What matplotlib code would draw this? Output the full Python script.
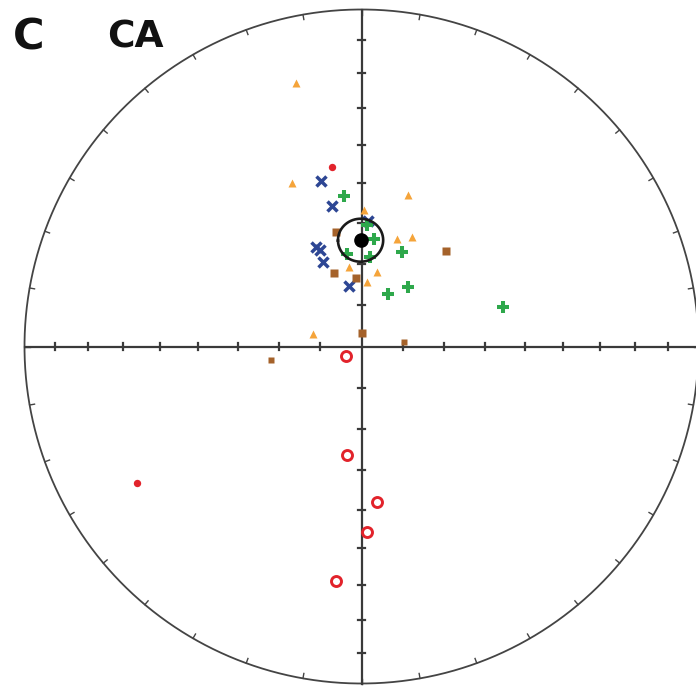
import numpy as np
import matplotlib
matplotlib.use('Agg')
import matplotlib.pyplot as plt

# ---- data (declination, inclination in degrees; negative inc = upper hemisphere) ----
orange_dec = [346.1, 336.8, 17.2, 1.2, 18.5, 24.7, 351.1, 12.0, 5.1, 284.5]
orange_inc = [20.5, 46.3, 51.1, 56.7, 62.6, 60.8, 70.5, 71.7, 74.3, 78.0]

blue_dec = [346.2, 348.0, 3.0, 335.4, 336.4, 335.8, 348.3]
blue_inc = [48.1, 54.9, 59.4, 63.5, 64.6, 67.5, 75.1]

green_dec = [353.5, 2.4, 6.8, 350.9, 23.0, 5.4, 27.0, 37.7, 74.5]
green_inc = [52.9, 60.4, 63.8, 67.3, 65.0, 68.3, 75.8, 71.7, 54.0]

brown_dec = [347.5, 41.5, 339.4, 355.2, 3.3]
brown_inc = [61.4, 58.8, 71.1, 73.3, 86.7]
brown_small_dec = [84.4, 261.5]
brown_small_inc = [79.7, 67.9]

red_dec = [350.6, 238.7, 239.3, 187.8, 174.4, 178.4, 186.3]
red_inc = [45.2, 23.0, -85.7, -63.4, -51.8, -44.2, -30.7]

mean_dec, mean_inc, mean_a95 = 359.5, 64.2, 5.3

panel_label = "C"
site_label = "CA"


def proj(dec, inc):
    dec = np.radians(np.asarray(dec, float))
    inc = np.asarray(inc, float)
    r = np.sqrt(2) * np.sin(np.radians(90 - np.abs(inc)) / 2)
    return r * np.sin(dec), r * np.cos(dec)


def small_circle(dec, inc, a95, n=200):
    d, i, a = np.radians(dec), np.radians(inc), np.radians(a95)
    m = np.array([np.cos(i) * np.cos(d), np.cos(i) * np.sin(d), np.sin(i)])
    u = np.cross(m, [0, 0, 1.0]); u /= np.linalg.norm(u)
    v = np.cross(m, u)
    t = np.linspace(0, 2 * np.pi, n)
    pts = np.cos(a) * m[:, None] + np.sin(a) * (np.cos(t) * u[:, None] + np.sin(t) * v[:, None])
    incs = np.degrees(np.arcsin(pts[2]))
    decs = np.degrees(np.arctan2(pts[1], pts[0]))
    return proj(decs, incs)


W, H = 696, 688
fig = plt.figure(figsize=(W / 100, H / 100), dpi=100)
ax = fig.add_axes([0, 0, 1, 1])
cx, cy, R = 361.5, 346.5, 337.0
ax.set_xlim(-cx / R, (W - cx) / R)
ax.set_ylim((cy - H) / R, cy / R)
ax.set_aspect('equal', adjustable='datalim')
ax.axis('off')

lc = '#3a3a3a'
t = np.linspace(0, 2 * np.pi, 720)
ax.plot(np.cos(t), np.sin(t), color='#444444', lw=1.3, zorder=2)
# ticks on circumference every 10 degrees (inward)
tl = 5 / R
for az in range(0, 360, 10):
    a = np.radians(az)
    ax.plot([np.sin(a), (1 - tl) * np.sin(a)], [np.cos(a), (1 - tl) * np.cos(a)],
            color='#444444', lw=1.0, zorder=2)
# axes
ax.plot([-1, 1], [0, 0], color=lc, lw=1.6, zorder=2)
ax.plot([0, 0], [-1, 1], color=lc, lw=1.6, zorder=2)
hl = 3.5 / R
for inc in range(10, 90, 10):
    r = np.sqrt(2) * np.sin(np.radians(90 - inc) / 2)
    for s in (1, -1):
        ax.plot([s * r, s * r], [-hl, hl], color=lc, lw=1.6, zorder=2)
        ax.plot([-hl, hl], [s * r, s * r], color=lc, lw=1.6, zorder=2)

orange = '#F5A43A'
blue = '#2D4694'
green = '#2EA84B'
brown = '#A5622A'
red = '#E2232B'

x, y = proj(orange_dec, orange_inc)
ax.plot(x, y, '^', color=orange, ms=6.3, mec='none', zorder=3)
x, y = proj(blue_dec, blue_inc)
ax.plot(x, y, 'x', color=blue, ms=7.2, mew=2.5, zorder=3)
x, y = proj(green_dec, green_inc)
ax.plot(x, y, '+', color=green, ms=9.2, mew=2.9, zorder=3)
x, y = proj(brown_dec, brown_inc)
ax.plot(x, y, 's', color=brown, ms=5.5, mec='none', zorder=3)
x, y = proj(brown_small_dec, brown_small_inc)
ax.plot(x, y, 's', color=brown, ms=4.0, mec='none', zorder=3)

rd, ri = np.array(red_dec), np.array(red_inc)
x, y = proj(rd[ri >= 0], ri[ri >= 0])
ax.plot(x, y, 'o', color=red, ms=5.3, mec='none', zorder=3)
x, y = proj(rd[ri < 0], ri[ri < 0])
ax.plot(x, y, 'o', mfc='white', mec=red, ms=7.2, mew=2.1, zorder=3)

x, y = proj([mean_dec], [mean_inc])
ax.plot(x, y, 'o', color='black', ms=9.5, zorder=5)
sx, sy = small_circle(mean_dec, mean_inc, mean_a95)
ax.plot(sx, sy, color='#1a1a1a', lw=1.9, zorder=5)

fig.text(13 / W, 1 - 50 / H, panel_label, fontsize=31, family='DejaVu Sans',
         fontweight='bold', va='baseline', ha='left', color='#111111')
fig.text(107 / W, 1 - 47 / H, site_label, fontsize=27, family='DejaVu Sans',
         fontweight='bold', va='baseline', ha='left', color='#111111')

fig.savefig('out.png', dpi=100)
